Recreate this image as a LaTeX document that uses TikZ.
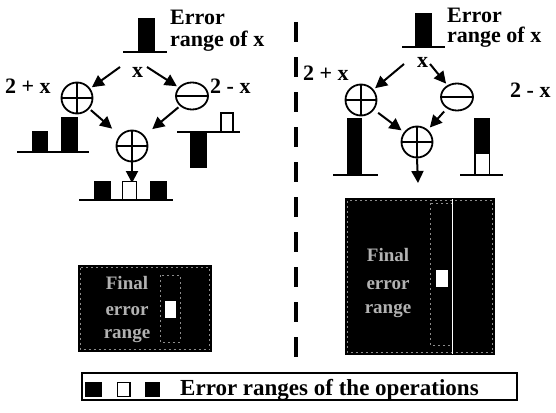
\documentclass[tikz,border=0pt]{standalone}
\usepackage{fontspec}
\setmainfont{Liberation Serif}
\usetikzlibrary{arrows.meta,shapes.geometric}
\begin{document}
\begin{tikzpicture}[x=1pt,y=-1pt,
  lbl/.style={font=\bfseries\fontsize{22}{22}\selectfont, inner sep=0pt, anchor=base west},
  xlbl/.style={font=\bfseries\fontsize{22}{22}\selectfont, inner sep=0pt, anchor=base},
  boxtxt/.style={font=\bfseries\fontsize{19}{19}\selectfont, text=black!30, inner sep=0pt, anchor=base},
  plusop/.style={circle, draw, line width=1.8pt, minimum size=31pt, inner sep=0pt,
    path picture={\draw[line width=1.8pt] (path picture bounding box.north) -- (path picture bounding box.south)
      (path picture bounding box.west) -- (path picture bounding box.east);}},
  minusop/.style={ellipse, draw, line width=1.8pt, minimum width=32pt, minimum height=27pt, inner sep=0pt,
    path picture={\draw[line width=1.8pt] (path picture bounding box.west) -- (path picture bounding box.east);}},
  arr/.style={line width=2pt, -{Triangle[length=12pt,width=12pt]}},
  baseln/.style={line width=1.8pt},
  wbar/.style={draw=black, fill=white, line width=1.5pt},
  darkbox/.style={fill=black},
  speck/.style={draw=black!45, line width=0.7pt, dash pattern=on 2pt off 3pt},
]
\useasboundingbox (0,0) rectangle (556,412);

% ================= LEFT PANEL =================
% input error range
\fill (138,18) rectangle (155,52);
\draw[baseln] (123,52) -- (167,52);
\node[lbl] (errL1) at (170,25) {Error};
\node[lbl] (errL2) at (170,46) {range of x};
\node[xlbl] (xL) at (137.5,77) {x};
\coordinate (xLa) at (120,67);
\coordinate (xLb) at (147,67);

\node[plusop] (pL1) at (77,98) {};
\node[minusop] (mL) at (192,96) {};
\node[plusop] (pL3) at (132,146) {};
\node[lbl] (tpL) at (5,93) {2 + x};
\node[lbl] (tmL) at (210,93) {2 - x};

\draw[arr, shorten >=2pt] (xLa) -- (pL1);
\draw[arr, shorten >=2pt] (xLb) -- (mL);
\draw[arr, shorten <=2pt, shorten >=10pt] (pL1) -- (pL3);
\draw[arr, shorten <=2pt, shorten >=10pt] (mL) -- (pL3);
\coordinate (dL) at (132,183);
\draw[arr] (pL3.south) -- (dL);

% bars of 2+x
\fill (32,131) rectangle (48,152);
\fill (61,117) rectangle (78,152);
\draw[baseln] (17,152) -- (89,152);
% bars of 2-x
\fill (190,132) rectangle (207,168);
\draw[wbar] (221,113) rectangle (233,132);
\draw[baseln] (177,132) -- (240,132);
% bars of result
\fill (94,181) rectangle (111,200);
\draw[wbar] (122.5,181.5) rectangle (136.5,200);
\fill (150,181) rectangle (167,200);
\draw[baseln] (79,200) -- (173,200);

% final error range box (left)
\fill[darkbox] (78,265) rectangle (212,352);
\draw[speck] (80.5,267.5) rectangle (209.5,349.5);
\draw[speck] (160,275) rectangle (180,342);
\fill[white] (165,301) rectangle (176,318);
\node[boxtxt] (fL1) at (127,289) {Final};
\node[boxtxt] (fL2) at (127,315) {error};
\node[boxtxt] (fL3) at (127,338) {range};

% ================= DIVIDER =================
\draw[line width=4.5pt, dash pattern=on 20pt off 15pt] (296,22) -- (296,358);

% ================= RIGHT PANEL =================
\fill (415,13) rectangle (432,47);
\draw[baseln] (402,47) -- (445,47);
\node[lbl] (errR1) at (447,23) {Error};
\node[lbl] (errR2) at (447,43) {range of x};
\node[xlbl] (xR) at (422.5,67) {x};
\coordinate (xRa) at (404,64);
\coordinate (xRb) at (430,64);

\node[plusop] (pR1) at (361,100) {};
\node[minusop] (mR) at (457,97) {};
\node[plusop] (pR3) at (417,142) {};
\node[lbl] (tpR) at (303,80) {2 + x};
\node[lbl] (tmR) at (510,97) {2 - x};

\draw[arr, shorten >=2pt] (xRa) -- (pR1);
\draw[arr, shorten >=2pt] (xRb) -- (mR);
\draw[arr, shorten <=5pt, shorten >=3pt] (pR1) -- (pR3);
\draw[arr, shorten <=4pt, shorten >=3pt] (mR) -- (pR3);
\coordinate (dR) at (418,183);
\draw[arr] (pR3.south) -- (dR);

% bar of 2+x
\fill (347,118) rectangle (362,175);
\draw[baseln] (333,175) -- (378,175);
% bar of 2-x
\fill (474,118) rectangle (490,153);
\draw[wbar] (474.75,153) rectangle (489.25,175);
\draw[baseln] (460,175) -- (503,175);

% final error range box (right)
\fill[darkbox] (345,198) rectangle (495,355);
\draw[speck] (347.5,200.5) rectangle (492.5,352.5);
\draw[speck] (430,203) rectangle (452,345);
\draw[white, line width=1pt] (452,199) -- (452,354);
\fill[white] (436,270) rectangle (448,287);
\node[boxtxt] (fR1) at (388,261) {Final};
\node[boxtxt] (fR2) at (388,289) {error};
\node[boxtxt] (fR3) at (388,313) {range};

% ================= LEGEND =================
\draw[line width=1.5pt] (82,373) rectangle (517,400);
\fill (85,382) rectangle (102,397);
\draw[wbar] (117.5,382.5) rectangle (130,396.5);
\fill (145,382) rectangle (160,397);
\node[lbl, font=\bfseries\fontsize{23}{23}\selectfont] (leg) at (180,395) {Error ranges of the operations};
\end{tikzpicture}
\end{document}
